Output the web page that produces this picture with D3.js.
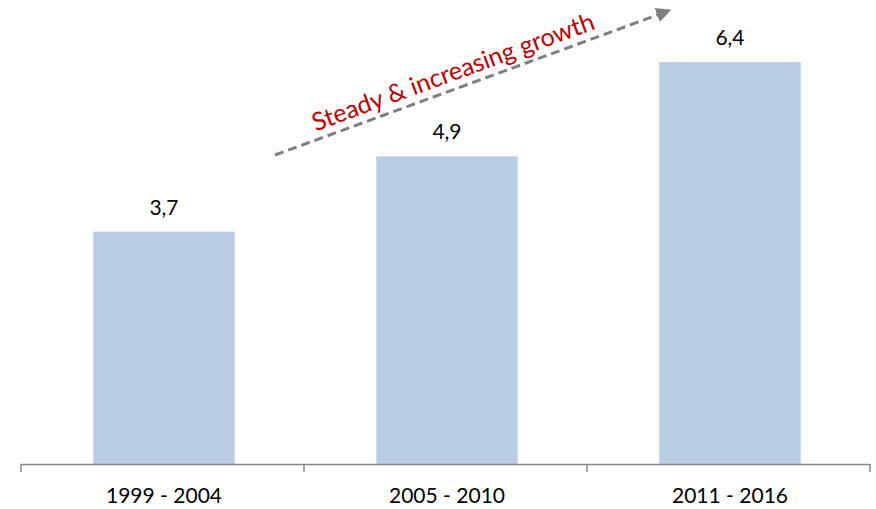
<!DOCTYPE html>
<html><head><meta charset="utf-8">
<script src="https://cdn.jsdelivr.net/npm/d3@7"></script>
<style>body{margin:0;background:#fff}svg{display:block}text{font-family:Lato,"Open Sans",sans-serif}</style>
</head><body>
<svg id="c" width="876" height="509"></svg>
<script>
const categories = ["1999 - 2004", "2005 - 2010", "2011 - 2016"];
const values = [3.7, 4.9, 6.4];
const valueLabels = ["3,7", "4,9", "6,4"];
const annotation = "Steady & increasing growth";

const svg = d3.select("#c");
const x = d3.scaleBand().domain(categories).range([22.5, 871.5]).paddingInner(0.5).paddingOuter(0.25);
const y = d3.scaleLinear().domain([0, 7]).range([464, 24.5]);

svg.selectAll("rect.bar").data(values).join("rect")
  .attr("x", (d, i) => x(categories[i]))
  .attr("width", x.bandwidth())
  .attr("y", d => y(d))
  .attr("height", d => y(0) - y(d))
  .attr("fill", "#b9cde5");

svg.selectAll("text.val").data(values).join("text")
  .attr("x", (d, i) => x(categories[i]) + x.bandwidth() / 2)
  .attr("y", d => y(d) - 17)
  .attr("text-anchor", "middle")
  .attr("font-size", 21)
  .attr("fill", "#000")
  .text((d, i) => valueLabels[i]);

// axis
const g = svg.append("g");
g.append("line").attr("x1", 21).attr("x2", 870).attr("y1", 464.5).attr("y2", 464.5).attr("stroke", "#868686").attr("stroke-width", 1.5);
const tickPos = d3.range(categories.length + 1).map(i => 21 + i * (849 / categories.length));
g.selectAll("line.tick").data(tickPos).join("line")
  .attr("x1", d => d).attr("x2", d => d).attr("y1", 464).attr("y2", 472)
  .attr("stroke", "#868686").attr("stroke-width", 1.5);
g.selectAll("text.cat").data(categories).join("text")
  .attr("x", d => x(d) + x.bandwidth() / 2)
  .attr("y", 503)
  .attr("text-anchor", "middle")
  .attr("font-size", 21)
  .attr("fill", "#000")
  .text(d => d);

// arrow
const defs = svg.append("defs");
defs.append("marker").attr("id", "ah").attr("viewBox", "0 0 10 10").attr("refX", 2).attr("refY", 5)
  .attr("markerWidth", 5).attr("markerHeight", 5).attr("orient", "auto")
  .append("path").attr("d", "M0,0 L10,5 L0,10 Z").attr("fill", "#7f7f7f");
svg.append("line").attr("x1", 275).attr("y1", 155).attr("x2", 660).attr("y2", 14)
  .attr("stroke", "#7f7f7f").attr("stroke-width", 3).attr("stroke-dasharray", "9,5")
  .attr("marker-end", "url(#ah)");

const ang = Math.atan2(14 - 155, 660 - 275) * 180 / Math.PI;
svg.append("text")
  .attr("transform", `translate(456,80) rotate(${ang})`)
  .attr("text-anchor", "middle")
  .attr("font-size", 25)
  .attr("fill", "#c00000")
  .text(annotation);
</script>
</body></html>
